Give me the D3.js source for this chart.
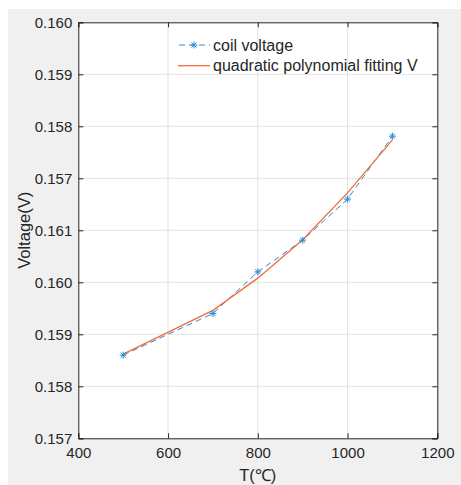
<!DOCTYPE html>
<html>
<head>
<meta charset="utf-8">
<script src="https://cdn.jsdelivr.net/npm/d3@7"></script>
<style>
  body { margin: 0; background: #fff; }
  svg text { font-family: "Liberation Sans", Arial, sans-serif; fill: #262626; }
</style>
</head>
<body>
<svg id="chart" width="461" height="485"></svg>
<script>
// temperatures (°C)
const temps = [500, 700, 800, 900, 1000, 1100];
// measured coil voltage
const coilVoltage = [0.15860, 0.15940, 0.16020, 0.16081, 0.16160, 0.16281];
// quadratic polynomial fit
const fitVoltage = [0.15862, 0.15946, 0.16008, 0.16082, 0.16172, 0.16274];

const xTicks = [400, 600, 800, 1000, 1200];
const yTickValues = [0.157, 0.158, 0.159, 0.160, 0.161, 0.162, 0.163, 0.164, 0.165];
const yTickLabels = ["0.157", "0.158", "0.159", "0.160", "0.161", "0.157", "0.158", "0.159", "0.160"];

const blue = "#2a8ad6";
const orange = "#f26d3b";
const axisColor = "#262626";

const svg = d3.select("#chart");

// figure background
svg.append("rect")
  .attr("x", 8).attr("y", 9)
  .attr("width", 453).attr("height", 476)
  .attr("fill", "#f0f0f0");

const pLeft = 78.3, pRight = 437.3, pTop = 22.3, pBottom = 438.3;

const x = d3.scaleLinear().domain([400, 1200]).range([pLeft, pRight]);
const y = d3.scaleLinear().domain([0.157, 0.165]).range([pBottom, pTop]);

svg.append("rect")
  .attr("x", pLeft).attr("y", pTop)
  .attr("width", pRight - pLeft).attr("height", pBottom - pTop)
  .attr("fill", "#fff");

// grid
const grid = svg.append("g").attr("stroke", "#e3e3e3").attr("stroke-width", 1);
grid.selectAll(".gx")
  .data(xTicks.slice(1, -1))
  .enter()
  .append("line")
  .attr("x1", d => x(d)).attr("x2", d => x(d))
  .attr("y1", pTop).attr("y2", pBottom);
grid.selectAll(".gy")
  .data(yTickValues.slice(1, -1))
  .enter()
  .append("line")
  .attr("x1", pLeft).attr("x2", pRight)
  .attr("y1", d => y(d)).attr("y2", d => y(d));

// axes
const fmtY = d => yTickLabels[yTickValues.indexOf(d)];

const xAxis = svg.append("g")
  .attr("transform", `translate(0,${pBottom})`)
  .call(d3.axisBottom(x).tickValues(xTicks).tickSize(-5).tickPadding(9).tickFormat(d3.format("d")));
const xTop = svg.append("g")
  .attr("transform", `translate(0,${pTop})`)
  .call(d3.axisTop(x).tickValues(xTicks).tickSize(-5).tickFormat(""));
const yAxis = svg.append("g")
  .attr("transform", `translate(${pLeft},0)`)
  .call(d3.axisLeft(y).tickValues(yTickValues).tickSize(-5).tickPadding(6).tickFormat(fmtY));
const yRight = svg.append("g")
  .attr("transform", `translate(${pRight},0)`)
  .call(d3.axisRight(y).tickValues(yTickValues).tickSize(-5).tickFormat(""));

[xAxis, xTop, yAxis, yRight].forEach(g => {
  g.select(".domain").attr("stroke", axisColor).attr("stroke-width", 1);
  g.selectAll(".tick line").attr("stroke", axisColor);
  g.selectAll(".tick text").attr("font-size", 15).attr("fill", axisColor);
});

// data lines
const line = d3.line().x(d => x(d[0])).y(d => y(d[1]));

svg.append("path")
  .datum(temps.map((t, i) => [t, coilVoltage[i]]))
  .attr("d", line)
  .attr("fill", "none")
  .attr("stroke", blue)
  .attr("stroke-width", 1)
  .attr("stroke-dasharray", "6,4");

svg.append("path")
  .datum(temps.map((t, i) => [t, fitVoltage[i]]))
  .attr("d", line)
  .attr("fill", "none")
  .attr("stroke", orange)
  .attr("stroke-width", 1.3);

function star(g, cx, cy) {
  const r = 3.5, d = r * 0.72;
  const segs = [[-r, 0, r, 0], [0, -r, 0, r], [-d, -d, d, d], [-d, d, d, -d]];
  g.selectAll(null)
    .data(segs)
    .enter()
    .append("line")
    .attr("x1", s => cx + s[0]).attr("y1", s => cy + s[1])
    .attr("x2", s => cx + s[2]).attr("y2", s => cy + s[3])
    .attr("stroke", blue)
    .attr("stroke-width", 1);
}

const markers = svg.append("g");
temps.forEach((t, i) => star(markers, x(t), y(coilVoltage[i])));

// legend
const legend = svg.append("g");
legend.append("line")
  .attr("x1", 178).attr("x2", 210).attr("y1", 45).attr("y2", 45)
  .attr("stroke", blue).attr("stroke-dasharray", "6,4").attr("stroke-dashoffset", -1);
star(legend, 194, 45);
legend.append("text").attr("x", 213).attr("y", 50.7).attr("font-size", 16).text("coil voltage");
legend.append("line")
  .attr("x1", 178).attr("x2", 210).attr("y1", 65.7).attr("y2", 65.7)
  .attr("stroke", orange).attr("stroke-width", 1.3);
legend.append("text").attr("x", 213).attr("y", 71.4).attr("font-size", 16).text("quadratic polynomial fitting V");

// axis titles
svg.append("text")
  .attr("x", (pLeft + pRight) / 2).attr("y", 481)
  .attr("text-anchor", "middle").attr("font-size", 16.5)
  .text("T(℃)");
svg.append("text")
  .attr("transform", `translate(30,${(pTop + pBottom) / 2}) rotate(-90)`)
  .attr("text-anchor", "middle").attr("font-size", 16.5)
  .text("Voltage(V)");
</script>
</body>
</html>
